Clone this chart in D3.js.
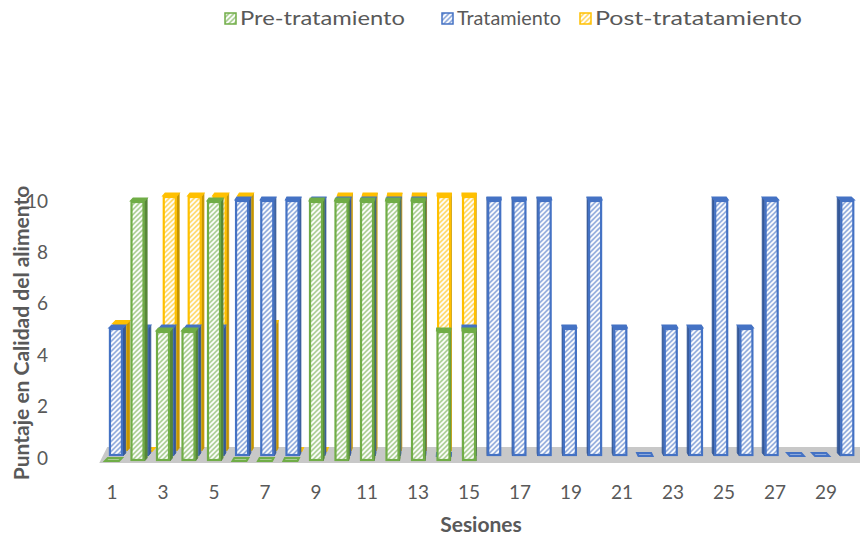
<!DOCTYPE html>
<html>
<head>
<meta charset="utf-8">
<script src="https://cdn.jsdelivr.net/npm/d3@7/dist/d3.min.js"></script>
<style>
  body { margin: 0; background: #fff; }
  svg text { font-family: Lato, "Open Sans", "Liberation Sans", sans-serif; }
</style>
</head>
<body>
<svg id="chart" width="860" height="541"></svg>
<script>
// Sessions and per-phase scores (null = no session in that phase)
const sessions = d3.range(1, 31);
const preTratamiento  = [0, 10, 5, 5, 10, 0, 0, 0, 10, 10, 10, 10, 10, 5, 5,
                         null, null, null, null, null, null, null, null, null, null, null, null, null, null, null];
const tratamiento     = [5, 5, 5, 5, 5, 10, 10, 10, 10, 10, 10, 10, 10, 0, 5,
                         10, 10, 10, 5, 10, 5, 0, 5, 5, 10, 5, 10, 0, 0, 10];
const postTratamiento = [5, 0, 10, 10, 10, 10, 5, 0, 0, 10, 10, 10, 10, 10, 10,
                         null, null, null, null, null, null, null, null, null, null, null, null, null, null, null];
const seriesNames  = ["Pre-tratamiento", "Tratamiento", "Post-tratatamiento"];
const seriesColors = ["#70ad47", "#4472c4", "#ffc000"];
const yTicks = [0, 2, 4, 6, 8, 10];
const xTicks = sessions.filter(d => d % 2 === 1);

const svg = d3.select("#chart");

// Horizontal band per session
const x = d3.scaleBand().domain(sessions).range([99.25, 864.25]).paddingInner(0);
// Value axis (labels) and one scale per depth row (front row slightly lower/taller)
const yAxisScale = d3.scaleLinear().domain([0, 10]).range([458, 201]);
const rowScales = [
  d3.scaleLinear().domain([0, 10]).range([461, 201]), // front row
  d3.scaleLinear().domain([0, 10]).range([456, 200]), // middle row
  d3.scaleLinear().domain([0, 10]).range([451, 196])  // back row
];

const vanishX = 470;      // perspective centre
const rowPersp = 0.011;   // horizontal drift per depth row
const barPersp = 0.008;   // side-face width factor
const barW = 14;
const topDepth = 3;

// Hatched fills
const defs = svg.append("defs");
seriesColors.forEach((c, i) => {
  const p = defs.append("pattern")
    .attr("id", "hatch" + i)
    .attr("patternUnits", "userSpaceOnUse")
    .attr("width", 5).attr("height", 5);
  p.append("rect").attr("width", 5).attr("height", 5)
    .attr("fill", d3.interpolateRgb(c, "#ffffff")(0.45));
  p.append("path")
    .attr("d", "M-1,1 l2,-2 M0,5 l5,-5 M4,6 l2,-2")
    .attr("stroke", "#ffffff").attr("stroke-width", 1.6);
});

// Floor
const floorFront = rowScales[0](0) + 2;
const floorBack = rowScales[2](0) - 4;
const xl = x.range()[0], xr = x.range()[1];
svg.append("path")
  .attr("d", `M${xl},${floorFront} L${xr + 10},${floorFront} L${xr + 10},${floorBack} L${xl + 8},${floorBack} Z`)
  .attr("fill", "#c8c8c8");

// Bars: back row first so nearer rows overlap
const seriesData = [preTratamiento, tratamiento, postTratamiento];
const rows = [2, 1, 0];
rows.forEach(r => {
  const vals = seriesData[r];
  const color = seriesColors[r];
  const dark = d3.color(color).darker(0.7).formatHex();
  const sc = rowScales[r];
  const g = svg.append("g").attr("class", "series-" + r);
  const items = sessions.map((s, i) => ({ s, v: vals[i] })).filter(d => d.v !== null);
  items.forEach(d => {
    const xc = x(d.s) + x.bandwidth() / 2;
    const shift = (vanishX - xc) * rowPersp * r;
    const x0 = xc - barW / 2 + shift;
    const yt = sc(d.v), yb = sc(0);
    const dx = (vanishX - xc) * barPersp, dy = -topDepth;
    // side face
    const sx = dx > 0 ? x0 + barW : x0;
    g.append("path")
      .attr("d", `M${sx},${yt} L${sx + dx},${yt + dy} L${sx + dx},${yb + dy} L${sx},${yb} Z`)
      .attr("fill", dark).attr("stroke", dark).attr("stroke-width", 0.8);
    // top face
    g.append("path")
      .attr("d", `M${x0},${yt} L${x0 + barW},${yt} L${x0 + barW + dx},${yt + dy} L${x0 + dx},${yt + dy} Z`)
      .attr("fill", d.v === 0 ? d3.interpolateRgb(color, "#fff")(0.4) : color)
      .attr("stroke", color).attr("stroke-width", d.v === 0 ? 2 : 1.2);
    // front face
    if (d.v > 0) {
      g.append("rect")
        .attr("x", x0 + 1).attr("y", yt + 1)
        .attr("width", barW - 2).attr("height", yb - yt - 2)
        .attr("fill", `url(#hatch${r})`)
        .attr("stroke", color).attr("stroke-width", 2.2);
    }
  });
});

// X axis labels (odd sessions)
const xAxis = d3.axisBottom(x).tickValues(xTicks).tickSize(0).tickPadding(0);
const gx = svg.append("g").attr("transform", "translate(0,485)").call(xAxis);
gx.select(".domain").remove();
gx.selectAll("text")
  .attr("fill", "#595959").attr("font-size", 19)
  .style("font-family", "Lato, 'Open Sans', sans-serif");

// Y axis labels
const yAxis = d3.axisLeft(yAxisScale).tickValues(yTicks).tickSize(0).tickPadding(0);
const gy = svg.append("g").attr("transform", "translate(48,0)").call(yAxis);
gy.select(".domain").remove();
gy.selectAll("text")
  .attr("fill", "#595959").attr("font-size", 19)
  .style("font-family", "Lato, 'Open Sans', sans-serif");

// Axis titles
svg.append("text")
  .attr("transform", "translate(29,333) rotate(-90)")
  .attr("text-anchor", "middle")
  .attr("font-size", 21).attr("font-weight", "bold").attr("fill", "#595959")
  .text("Puntaje en Calidad del alimento");
svg.append("text")
  .attr("x", 481).attr("y", 532)
  .attr("text-anchor", "middle")
  .attr("font-size", 21).attr("font-weight", "bold").attr("fill", "#595959")
  .text("Sesiones");

// Legend
const legendX = [224, 441, 579];
const legendW = [165, 104, 207];
const lg = svg.append("g").attr("class", "legend");
seriesNames.forEach((name, i) => {
  lg.append("rect")
    .attr("x", legendX[i] + 1).attr("y", 13)
    .attr("width", 11).attr("height", 11)
    .attr("fill", `url(#hatch${i})`)
    .attr("stroke", seriesColors[i]).attr("stroke-width", 1.5);
  lg.append("text")
    .attr("x", legendX[i] + 16).attr("y", 25)
    .attr("font-size", 19).attr("fill", "#595959")
    .attr("textLength", legendW[i]).attr("lengthAdjust", "spacingAndGlyphs")
    .text(name);
});
</script>
</body>
</html>
